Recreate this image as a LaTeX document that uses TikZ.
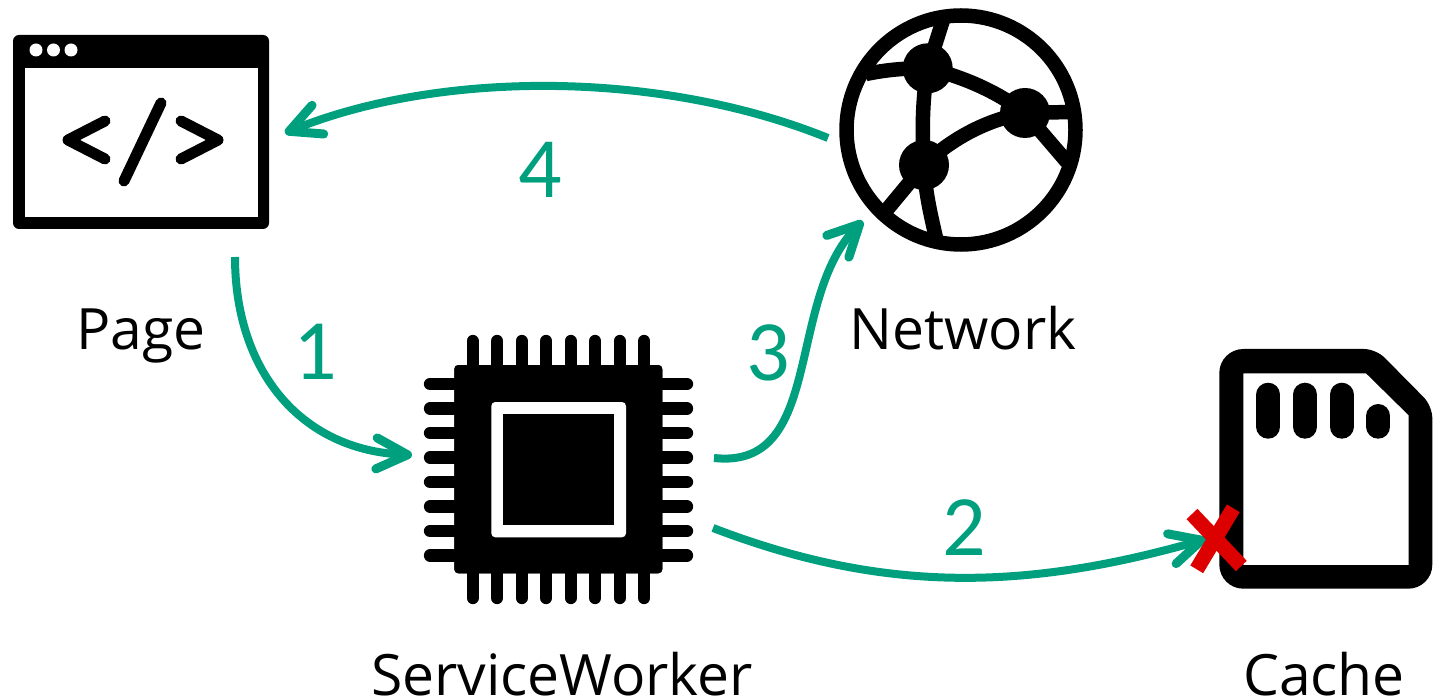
\documentclass[tikz,border=0pt]{standalone}
\usepackage{fontspec}
\setmainfont{Open Sans}
\newfontfamily\digitfont{Carlito}
\usetikzlibrary{arrows.meta}
\definecolor{flowgreen}{HTML}{00A07F}
\definecolor{failred}{HTML}{DD0000}
\tikzset{
  flow/.style={draw=flowgreen,line width=8pt,-{Straight Barb[length=31pt,width=31pt,line width=9pt,round=false]}},
  caption/.style={font=\fontsize{57}{60}\selectfont,text=black,inner sep=0pt,anchor=base},
  stepnum/.style={font=\digitfont\fontsize{86}{90}\selectfont,text=flowgreen,inner sep=0pt,anchor=base},
  pin/.style={line width=12.3pt,line cap=round},
  code/.style={line width=11pt,line cap=round,line join=round},
  link/.style={line width=14.5pt},
  pill/.style={line width=24pt,line cap=round},
  cross/.style={draw=failred,line width=15pt}
}
\begin{document}
\begin{tikzpicture}[x=1pt,y=-1pt]
\useasboundingbox (0,0) rectangle (1453,700);
% Page
\fill[rounded corners=6pt] (13,35) rectangle (269,229);
\fill[white] (25,68) rectangle (258,217);
\foreach \x in {36,53.5,71} \fill[white] (\x,50) circle (6.5);
\draw[code] (105,121) -- (68,140) -- (105,159);
\draw[code] (161,103) -- (124,181);
\draw[code] (181,121) -- (218,140) -- (181,159);
% Network
\draw[line width=14.5pt] (961,130) circle (114.5);
\fill (927.7,68.3) circle (25);
\fill (1025,113) circle (25);
\fill (924,165) circle (25);
\draw[link] (927.7,68.3) -- (943,20);
\draw[link] (927.7,68.3) .. controls (905,68) and (885,70) .. (866,74);
\draw[link] (927.7,68.3) .. controls (922,100) and (922,135) .. (924,165);
\draw[link] (927.7,68.3) .. controls (960,76) and (995,90) .. (1025,113);
\draw[link] (924,165) .. controls (950,140) and (985,120) .. (1025,113);
\draw[link] (1025,113) -- (1070,112);
\draw[link] (1025,113) -- (1067,162);
\draw[link] (924,165) -- (885,212);
\draw[link] (924,165) .. controls (925,190) and (930,212) .. (936,238);
% Chip
\fill[rounded corners=4pt] (454.3,365) rectangle (662.3,573.3);
\foreach \i in {0,...,7}{
  \draw[pin] ({472.7+24.5*\i},341) -- ({472.7+24.5*\i},598);
  \draw[pin] (430,{384+24.5*\i}) -- (687,{384+24.5*\i});
}
\fill[rounded corners=4pt] (454.3,365) rectangle (662.3,573.3);
\fill[white,rounded corners=4pt] (491.3,402) rectangle (626,537.3);
\fill (503.3,414.3) rectangle (613.7,525);
% Cache
\fill[even odd rule] [rounded corners=24pt] (1219.3,470) -- (1219.3,349) [rounded corners=12pt] -- (1376,349) -- (1432.3,406) [rounded corners=24pt] -- (1432.3,588.7) -- (1219.3,588.7) -- cycle
  [sharp corners] (1243.3,373.3) -- (1366,373.3) -- (1408.7,415.3) -- (1408.7,565) -- (1243.3,565) -- cycle;
\foreach \x in {1268.3,1305,1341.7} \draw[pill] (\x,394.7) -- (\x,426.7);
\draw[pill] (1378.3,416) -- (1378.3,426.7);
% Captions
\node[caption] (pagelabel) at (141,350) {Page};
\node[caption] (networklabel) at (963,350) {Network};
\node[caption] (workerlabel) at (562,695) {ServiceWorker};
\node[caption] (cachelabel) at (1324,695) {Cache};
% Connector ends
\coordinate (pageout) at (235,257);
\coordinate (workerin) at (412,455);
\coordinate (workernet) at (714,458);
\coordinate (netin) at (862.7,221);
\coordinate (netout) at (828,138);
\coordinate (pagein) at (285,133);
\coordinate (workercache) at (713,528);
\coordinate (cachein) at (1206,539);
\draw[flow] (pageout) .. controls (235,370) and (300,450) .. (workerin);
\draw[flow] (workernet) .. controls (825,470) and (785,300) .. (netin);
\draw[flow] (netout) .. controls (660,70) and (440,70) .. (pagein);
\draw[flow] (workercache) .. controls (880,592) and (1020,592) .. (cachein);
\node[stepnum] (one) at (315,379) {1};
\node[stepnum] (two) at (964,555) {2};
\node[stepnum] (three) at (768,380) {3};
\node[stepnum] (four) at (540,198) {4};
% Cross
\draw[cross] (1192,514) -- (1241.3,566);
\draw[cross] (1233.3,508.3) -- (1196.7,569.3);
\end{tikzpicture}
\end{document}
